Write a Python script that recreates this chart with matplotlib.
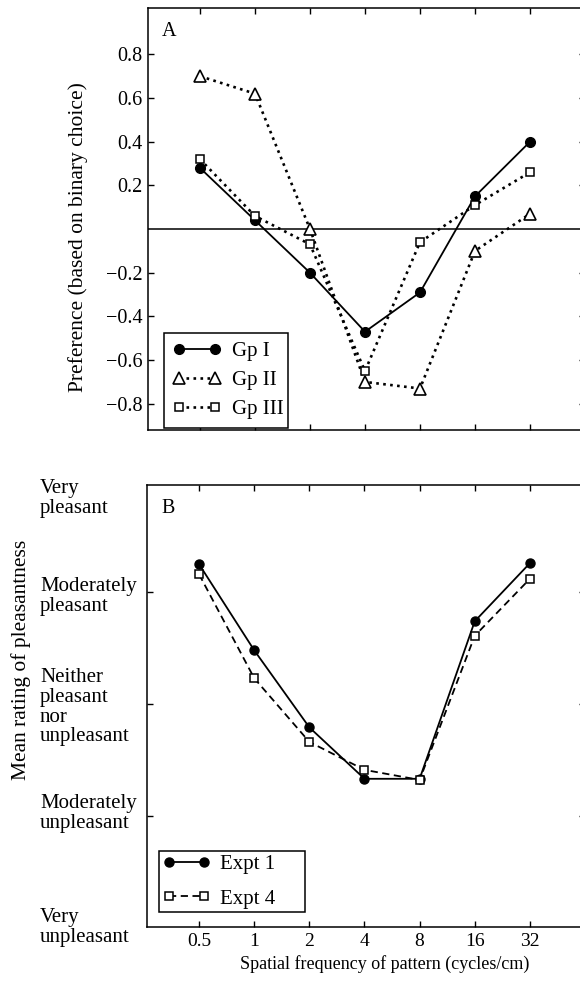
import numpy as np
import matplotlib
matplotlib.use("Agg")
import matplotlib.pyplot as plt
import matplotlib.transforms as mtransforms
from matplotlib.ticker import NullLocator, FixedLocator, FixedFormatter

plt.rcParams['font.family'] = ['Liberation Serif', 'DejaVu Serif']

# spatial frequency (cycles/cm)
freq = [0.5, 1, 2, 4, 8, 16, 32]
freq_labels = ['0.5', '1', '2', '4', '8', '16', '32']

# panel A: preference based on binary choice
gp1 = [0.28, 0.04, -0.20, -0.47, -0.29, 0.15, 0.40]
gp2 = [0.70, 0.62, 0.00, -0.70, -0.73, -0.10, 0.07]
gp3 = [0.32, 0.06, -0.07, -0.65, -0.06, 0.11, 0.26]

# panel B: mean rating of pleasantness (1 = very unpleasant ... 5 = very pleasant)
expt1 = [4.25, 3.48, 2.79, 2.33, 2.33, 3.74, 4.26]
expt4 = [4.16, 3.23, 2.66, 2.41, 2.32, 3.61, 4.12]
rating_names = ['Very\nunpleasant', 'Moderately\nunpleasant',
                'Neither\npleasant\nnor\nunpleasant',
                'Moderately\npleasant', 'Very\npleasant']
rating_text_y = [1.0, 2.02, 2.97, 3.96, 4.84]

W, H = 580, 986
fig = plt.figure(figsize=(W / 100, H / 100), dpi=100)


def box(l, t, r, b):
    return [l / W, 1 - b / H, (r - l) / W, (b - t) / H]


axA = fig.add_axes(box(147.5, 8.3, 585, 430))
axB = fig.add_axes(box(146.5, 485, 585, 926.7))

for ax in (axA, axB):
    ax.set_xscale('log', base=2)
    ax.set_xlim(0.258, 64)
    ax.xaxis.set_major_locator(FixedLocator(freq))
    ax.xaxis.set_minor_locator(NullLocator())
    ax.tick_params(which='both', direction='in', top=True, right=True,
                   length=4.5, width=1, labelsize=14.5)
    ax.tick_params(axis='y', pad=3.5)
    ax.tick_params(axis='x', pad=4.5, labelsize=14)
    for s in ax.spines.values():
        s.set_linewidth(1.1)

# ---- panel A
axA.axhline(0, color='black', lw=1.1, zorder=1)
axA.plot(freq, gp1, '-', color='black', lw=1.3, marker='o', ms=7,
         mfc='black', label='Gp I')
axA.plot(freq, gp2, ':', color='black', lw=1.9, marker='^', ms=9,
         mfc='white', mew=1.2, label='Gp II')
axA.plot(freq, gp3, ':', color='black', lw=1.9, marker='s', ms=6,
         mfc='white', mew=1.1, label='Gp III')
axA.set_ylim(-0.92, 1.011)
axA.set_yticks([-0.8, -0.6, -0.4, -0.2, 0.2, 0.4, 0.6, 0.8])
axA.set_yticklabels(['\u22120.8', '\u22120.6', '\u22120.4', '\u22120.2',
                     '0.2', '0.4', '0.6', '0.8'])
axA.set_xticklabels([])
axA.text(0.05, 0.945, 'A', transform=axA.transAxes, fontsize=14.5,
         ha='center', va='center')
legA = axA.legend(loc='lower left', bbox_to_anchor=(0.038, 0.005, 0.283, 0.2),
                  mode='expand', borderaxespad=0, fontsize=15, numpoints=2,
                  handlelength=2.3, handletextpad=0.55,
                  labelspacing=0.45, fancybox=False, edgecolor='black',
                  framealpha=1, borderpad=0.42)
legA.get_frame().set_linewidth(1.1)

# ---- panel B
axB.plot(freq, expt1, '-', color='black', lw=1.3, marker='o', ms=6.5,
         mfc='black', label='Expt 1')
axB.plot(freq, expt4, '--', color='black', lw=1.3, marker='s', ms=5.5,
         mfc='white', mew=1.1, label='Expt 4', dashes=(4, 2.5))
axB.set_ylim(1.006, 4.96)
axB.set_yticks([2, 3, 4])
axB.set_yticklabels([])
axB.xaxis.set_major_formatter(FixedFormatter(freq_labels))
axB.text(0.05, 0.947, 'B', transform=axB.transAxes, fontsize=14.5,
         ha='center', va='center')
lab_tr = mtransforms.blended_transform_factory(fig.transFigure, axB.transData)
for name, yv in zip(rating_names, rating_text_y):
    axB.text(40 / W, yv, name, transform=lab_tr,
             ha='left', va='center', fontsize=15, linespacing=1.05,
             clip_on=False)
legB = axB.legend(loc='lower left', bbox_to_anchor=(0.0285, 0.033, 0.333, 0.15),
                  mode='expand', borderaxespad=0, fontsize=15, numpoints=2,
                  handlelength=2.3, handletextpad=0.45,
                  labelspacing=0.7, fancybox=False, edgecolor='black',
                  framealpha=1, borderpad=0.17)
legB.get_frame().set_linewidth(1.1)

fig.text(78 / W, 1 - 237 / H, 'Preference (based on binary choice)',
         rotation=90, ha='center', va='center', fontsize=15.5)
fig.text(21 / W, 1 - 660 / H, 'Mean rating of pleasantness',
         rotation=90, ha='center', va='center', fontsize=15.5)
fig.text(385 / W, 1 - 964 / H, 'Spatial frequency of pattern (cycles/cm)',
         ha='center', va='center', fontsize=13)

fig.savefig('out.png', dpi=100)
